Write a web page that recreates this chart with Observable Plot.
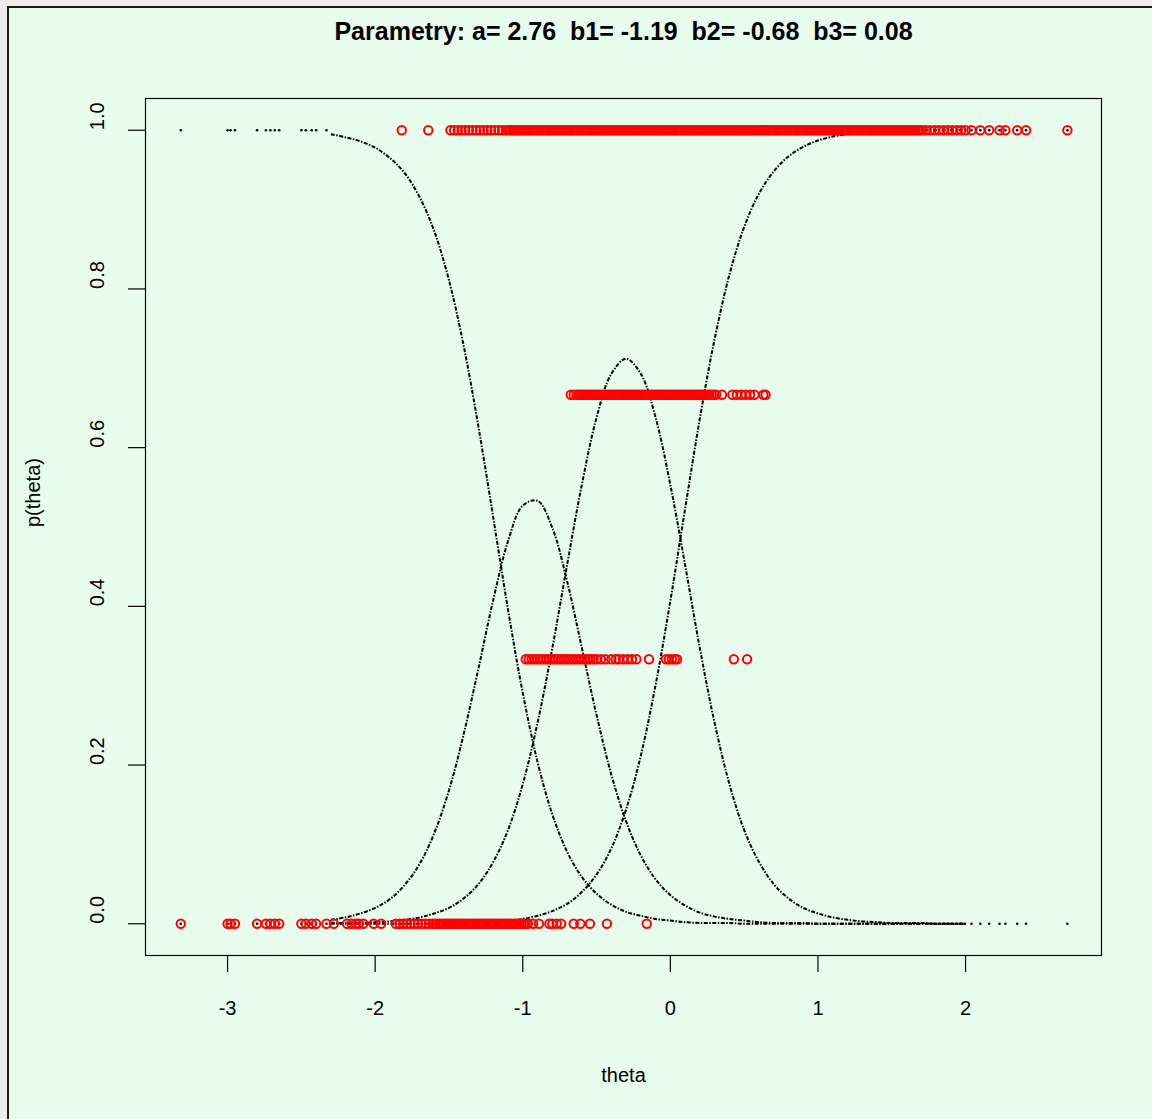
<!DOCTYPE html>
<html>
<head>
<meta charset="utf-8">
<script src="https://cdn.jsdelivr.net/npm/d3@7"></script>
<script src="https://cdn.jsdelivr.net/npm/@observablehq/plot@0.6"></script>
<style>
  body { margin: 0; background: #ececec; }
  #wrap { position: relative; width: 1152px; height: 1119px; overflow: hidden; }
  #bg { position: absolute; left: 7px; top: 6px; right: 0; bottom: 0; background: #e8fcee;
        border-left: 2px solid #1a1a1a; border-top: 2px solid #1a1a1a; }
  #chart { position: absolute; left: 0; top: 0; }
</style>
</head>
<body>
<div id="wrap"><div id="bg"></div><div id="chart"></div></div>
<script>
// ---- model parameters (shown in title) ----
const paramNames = ["a", "b1", "b2", "b3"];
const paramValues = [2.76, -1.19, -0.68, 0.08];

// ---- axis ticks ----
const xTicks = [-3, -2, -1, 0, 1, 2];
const yTicks = [0, 0.2, 0.4, 0.6, 0.8, 1.0];
const yTickLabels = ["0.0", "0.2", "0.4", "0.6", "0.8", "1.0"];

// ---- category curves ----
const thetaGrid = [-2.3,-2.2,-2.1,-2.0,-1.9,-1.8,-1.7,-1.6,-1.5,-1.4,-1.3,-1.2,-1.1,-1.0,-0.9,-0.8,-0.7,-0.6,-0.5,-0.4,-0.3,-0.2,-0.1,0.0,0.1,0.2,0.3,0.4,0.5,0.6,0.7,0.8,0.9,1.0,1.1,1.2,1.3,1.4,1.5,1.6,1.7,1.8,1.9,2.0];
const p0 = [0.995,0.991,0.986,0.978,0.965,0.946,0.916,0.873,0.811,0.728,0.626,0.512,0.396,0.291,0.204,0.138,0.091,0.059,0.038,0.024,0.015,0.010,0.006,0.004,0.002,0.001,0.001,0.001,0,0,0,0,0,0,0,0,0,0,0,0,0,0,0,0];
const p1 = [0.005,0.008,0.013,0.020,0.031,0.049,0.075,0.114,0.168,0.239,0.322,0.408,0.482,0.527,0.533,0.499,0.432,0.348,0.263,0.188,0.129,0.086,0.056,0.036,0.023,0.014,0.009,0.006,0.004,0.002,0.001,0.001,0.001,0,0,0,0,0,0,0,0,0,0,0];
const p2 = [0.001,0.001,0.001,0.002,0.003,0.005,0.008,0.013,0.020,0.032,0.050,0.078,0.118,0.176,0.253,0.347,0.452,0.553,0.638,0.693,0.712,0.693,0.638,0.553,0.452,0.347,0.253,0.176,0.118,0.078,0.050,0.032,0.020,0.013,0.008,0.005,0.003,0.002,0.001,0.001,0.001,0,0,0];
const p3 = [0,0,0,0,0,0,0,0,0.001,0.001,0.002,0.002,0.004,0.006,0.010,0.016,0.025,0.040,0.062,0.095,0.144,0.212,0.301,0.407,0.523,0.637,0.737,0.818,0.878,0.920,0.948,0.967,0.979,0.987,0.992,0.995,0.997,0.998,0.999,0.999,1,1,1,1];

// ---- observed scores (red circles): theta of each respondent per score level ----
const scoreLevels = [0, 1/3, 2/3, 1];
const thetaScore0 = [-3.317,-3.00,-2.98,-2.95,-2.80,-2.74,-2.71,-2.68,-2.65,-2.50,-2.47,-2.43,-2.40,-2.33,-2.28,-2.19,-2.16,-2.13,-2.11,-2.08,-2.01,-1.96,
  -1.86,-1.835,-1.81,-1.785,-1.76,-1.735,-1.71,-1.685,-1.66,-1.635,-1.61,
  -1.595,-1.580,-1.565,-1.550,-1.535,-1.520,-1.505,-1.490,-1.475,-1.460,-1.445,-1.430,-1.415,-1.400,-1.385,-1.370,-1.355,-1.340,-1.325,-1.310,-1.295,-1.280,-1.265,-1.250,-1.235,-1.220,-1.205,-1.190,-1.175,-1.160,-1.145,-1.130,-1.115,-1.100,-1.085,-1.070,-1.055,-1.040,-1.025,-1.010,-0.995,-0.980,-0.965,
  -0.93,-0.89,-0.82,-0.80,-0.77,-0.74,-0.655,-0.61,-0.545,-0.43,-0.16];
const thetaScore1 = [-0.98,-0.96,-0.94,-0.92,-0.90,-0.88,-0.86,-0.84,-0.82,-0.80,-0.78,-0.76,-0.74,-0.72,-0.70,-0.68,-0.66,-0.64,-0.62,-0.60,-0.58,-0.56,-0.54,-0.52,-0.50,-0.47,
  -0.44,-0.40,-0.37,-0.35,-0.32,-0.29,-0.26,-0.23,-0.145,-0.03,-0.01,0.01,0.03,0.045,0.43,0.52];
const thetaScore2 = [-0.675,-0.655,-0.635,
  -0.620,-0.605,-0.590,-0.575,-0.560,-0.545,-0.530,-0.515,-0.500,-0.485,-0.470,-0.455,-0.440,-0.425,-0.410,-0.395,-0.380,-0.365,-0.350,-0.335,-0.320,-0.305,-0.290,-0.275,-0.260,-0.245,-0.230,-0.215,-0.200,-0.185,-0.170,-0.155,-0.140,-0.125,-0.110,-0.095,-0.080,-0.065,-0.050,-0.035,-0.020,-0.005,
  0.010,0.025,0.040,0.055,0.070,0.085,0.100,0.115,0.130,0.145,0.160,0.175,0.190,0.205,0.220,0.235,0.250,0.265,0.280,0.295,0.310,
  0.35,0.42,0.45,0.48,0.51,0.54,0.57,0.63,0.645];
const thetaScore3 = [-1.82,-1.64,-1.49,-1.465,-1.44,-1.415,-1.39,-1.365,-1.34,-1.315,-1.29,-1.265,-1.24,-1.215,-1.19,-1.165,-1.14,-1.115,
  -1.100,-1.085,-1.070,-1.055,-1.040,-1.025,-1.010,-0.995,-0.980,-0.965,-0.950,-0.935,-0.920,-0.905,-0.890,-0.875,-0.860,-0.845,-0.830,-0.815,-0.800,-0.785,-0.770,-0.755,-0.740,-0.725,-0.710,-0.695,-0.680,-0.665,-0.650,-0.635,-0.620,-0.605,-0.590,-0.575,-0.560,-0.545,-0.530,-0.515,-0.500,
  -0.485,-0.470,-0.455,-0.440,-0.425,-0.410,-0.395,-0.380,-0.365,-0.350,-0.335,-0.320,-0.305,-0.290,-0.275,-0.260,-0.245,-0.230,-0.215,-0.200,-0.185,-0.170,-0.155,-0.140,-0.125,-0.110,-0.095,-0.080,-0.065,-0.050,-0.035,-0.020,-0.005,
  0.010,0.025,0.040,0.055,0.070,0.085,0.100,0.115,0.130,0.145,0.160,0.175,0.190,0.205,0.220,0.235,0.250,0.265,0.280,0.295,0.310,0.325,0.340,0.355,0.370,0.385,0.400,0.415,0.430,0.445,0.460,0.475,0.490,
  0.505,0.520,0.535,0.550,0.565,0.580,0.595,0.610,0.625,0.640,0.655,0.670,0.685,0.700,0.715,0.730,0.745,0.760,0.775,0.790,0.805,0.820,0.835,0.850,0.865,0.880,0.895,0.910,0.925,0.940,0.955,0.970,0.985,
  1.000,1.015,1.030,1.045,1.060,1.075,1.090,1.105,1.120,1.135,1.150,1.165,1.180,1.195,1.210,1.225,1.240,1.255,1.270,1.285,1.300,1.315,1.330,1.345,1.360,1.375,1.390,1.405,1.420,1.435,1.450,1.465,1.480,
  1.495,1.510,1.525,1.540,1.555,1.570,1.585,1.600,1.615,1.630,1.645,1.660,1.675,1.690,1.705,
  1.73,1.76,1.79,1.82,1.85,1.88,1.91,1.94,1.97,2.00,
  2.04,2.10,2.16,2.23,2.27,2.35,2.41,2.69];

// ---- build tables ----
const curveArrays = [p0, p1, p2, p3];
const curves = curveArrays.flatMap((arr, k) => thetaGrid.map((t, i) => ({theta: t, p: arr[i], curve: k})));
const observed = [thetaScore0, thetaScore1, thetaScore2, thetaScore3]
  .flatMap((arr, k) => arr.map(t => ({theta: t, p: scoreLevels[k]})));
// sparse tails: respondents outside the curve grid, curve values at 0 or 1
const gridMin = thetaGrid[0], gridMax = thetaGrid[thetaGrid.length - 1];
const tailThetas = [...thetaScore0.filter(t => t < gridMin), ...thetaScore3.filter(t => t > gridMax)];
const tails = tailThetas.flatMap(t => [{theta: t, p: 0}, {theta: t, p: 1}]);

const title = "Parametry: " + paramNames.map((n, i) => `${n}=\u00a0${paramValues[i].toFixed(2)}`).join("\u00a0\u00a0");
const font = "'Liberation Sans', Arial, Helvetica, sans-serif";
const curveDash = "4,1.5,1.5,1.5";

const chart = Plot.plot({
  width: 1152,
  height: 1119,
  marginLeft: 145,
  marginRight: 51,
  marginTop: 98,
  marginBottom: 164,
  style: {background: "none", fontFamily: font, fontSize: "20px", color: "black"},
  x: {domain: [-3.556, 2.921]},
  y: {domain: [-0.04, 1.04]},
  marks: [
    Plot.line(curves, {x: "theta", y: "p", z: "curve", stroke: "black", strokeWidth: 2,
      strokeDasharray: curveDash, curve: "catmull-rom"}),
    Plot.dot(tails, {x: "theta", y: "p", r: 1.3, fill: "black", stroke: null}),
    Plot.dot(observed, {x: "theta", y: "p", r: 4.2, stroke: "#ff0000", strokeWidth: 2, fill: "none"}),
    Plot.frame({stroke: "black", strokeWidth: 1.2}),
    Plot.axisX({ticks: xTicks, tickFormat: d => String(d), tickSize: 17, tickPadding: 28,
      fontSize: 20, label: null, strokeWidth: 1.2}),
    Plot.axisY({ticks: yTicks, tickFormat: () => "", tickSize: 17, label: null, strokeWidth: 1.2}),
    Plot.text(yTicks, {y: d => d, text: (d, i) => yTickLabels[i], frameAnchor: "left", dx: -48,
      rotate: -90, fontSize: 20, lineAnchor: "middle"}),
    Plot.text(["theta"], {frameAnchor: "bottom", dy: 120, text: d => d, fontSize: 20, lineAnchor: "middle"}),
    Plot.text(["p(theta)"], {frameAnchor: "left", dx: -112, rotate: -90, text: d => d, fontSize: 20, lineAnchor: "middle"}),
    Plot.text([title], {frameAnchor: "top", dy: -67, text: d => d, fontSize: 25, fontWeight: "bold", lineAnchor: "middle"})
  ]
});
// apply the dash-dot look of the curves on every path
d3.select(chart).selectAll("g[aria-label='line'] path")
  .attr("stroke-dasharray", curveDash)
  .attr("stroke-linecap", "butt");
document.getElementById("chart").appendChild(chart);
</script>
</body>
</html>
